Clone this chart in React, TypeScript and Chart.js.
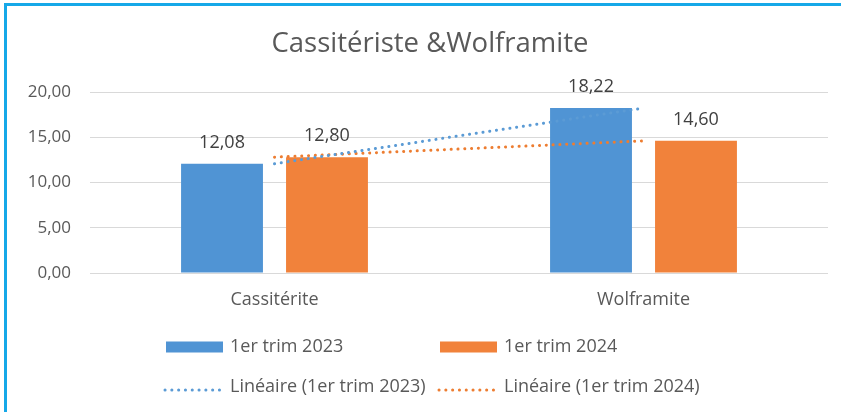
import React, { useEffect, useRef } from "react";
import { Chart, registerables } from "chart.js";

Chart.register(...registerables);

const categories = ["Cassitérite", "Wolframite"];
const seriesNames = ["1er trim 2023", "1er trim 2024"];
const series2023 = [12.08, 18.22];
const series2024 = [12.8, 14.6];
const yMin = 0;
const yMax = 20;
const yStep = 5;
const titleText = "Cassitériste &Wolframite";
const trendPrefix = "Linéaire";

const BLUE = "#5094D4";
const ORANGE = "#F1823B";
const FONT = "'Open Sans'";

function linearFit(values: number[]): number[] {
  const n = values.length;
  const xs = values.map((_, i) => i + 1);
  const mx = xs.reduce((a, b) => a + b, 0) / n;
  const my = values.reduce((a, b) => a + b, 0) / n;
  let num = 0;
  let den = 0;
  for (let i = 0; i < n; i++) {
    num += (xs[i] - mx) * (values[i] - my);
    den += (xs[i] - mx) * (xs[i] - mx);
  }
  const slope = den === 0 ? 0 : num / den;
  const icpt = my - slope * mx;
  return xs.map((x) => icpt + slope * x);
}

const fmt = (v: number) => v.toFixed(2).replace(".", ",");

const titlePlugin = {
  id: "customTitle",
  afterDraw(chart: any) {
    const ctx = chart.ctx;
    ctx.save();
    ctx.font = `27.5px ${FONT}`;
    ctx.fillStyle = "#595959";
    ctx.textAlign = "center";
    ctx.textBaseline = "middle";
    ctx.fillText(titleText, 430, 44);
    ctx.restore();
  },
};

const dataLabelPlugin = {
  id: "dataLabels",
  afterDatasetsDraw(chart: any) {
    const ctx = chart.ctx;
    ctx.save();
    ctx.font = `18px ${FONT}`;
    ctx.fillStyle = "#404040";
    ctx.textAlign = "center";
    ctx.textBaseline = "middle";
    chart.data.datasets.forEach((ds: any, di: number) => {
      if (ds.type !== "bar") return;
      const meta = chart.getDatasetMeta(di);
      meta.data.forEach((el: any, i: number) => {
        ctx.fillText(fmt(ds.data[i]), el.x, el.y - 21);
      });
    });
    ctx.restore();
  },
};

const legendPlugin = {
  id: "customLegend",
  afterDraw(chart: any) {
    const ctx = chart.ctx;
    const ds = chart.data.datasets;
    const cols = [166, 440];
    const rows = [347, 387];
    ctx.save();
    ctx.font = `18px ${FONT}`;
    ctx.textBaseline = "middle";
    ctx.textAlign = "left";
    ds.forEach((d: any, i: number) => {
      const isBar = d.type === "bar";
      const col = cols[i % 2];
      const row = rows[isBar ? 0 : 1];
      if (isBar) {
        ctx.fillStyle = d.backgroundColor;
        ctx.fillRect(col, row - 5.5, 57, 11);
      } else {
        ctx.strokeStyle = d.borderColor;
        ctx.lineWidth = 3;
        ctx.lineCap = "round";
        ctx.setLineDash([0.1, 6.7]);
        ctx.beginPath();
        ctx.moveTo(col - 1, row + 3);
        ctx.lineTo(col + 56, row + 3);
        ctx.stroke();
        ctx.setLineDash([]);
      }
      ctx.fillStyle = "#595959";
      ctx.fillText(d.label, col + 64, row);
    });
    ctx.restore();
  },
};

export default function App() {
  const ref = useRef<HTMLCanvasElement | null>(null);
  useEffect(() => {
    if (!ref.current) return;
    const chart = new Chart(ref.current, {
      type: "bar",
      data: {
        labels: categories,
        datasets: [
          {
            type: "bar",
            label: seriesNames[0],
            data: series2023,
            backgroundColor: BLUE,
            categoryPercentage: 0.569,
            barPercentage: 0.78,
            order: 1,
          },
          {
            type: "bar",
            label: seriesNames[1],
            data: series2024,
            backgroundColor: ORANGE,
            categoryPercentage: 0.569,
            barPercentage: 0.78,
            order: 1,
          },
          {
            type: "line",
            label: `${trendPrefix} (${seriesNames[0]})`,
            data: linearFit(series2023),
            borderColor: "#5B9BD5",
            borderWidth: 3,
            borderCapStyle: "round",
            borderDash: [0.1, 6.7],
            pointRadius: 0,
            fill: false,
            order: 0,
          },
          {
            type: "line",
            label: `${trendPrefix} (${seriesNames[1]})`,
            data: linearFit(series2024),
            borderColor: "#ED7D31",
            borderWidth: 3,
            borderCapStyle: "round",
            borderDash: [0.1, 6.7],
            pointRadius: 0,
            fill: false,
            order: 0,
          },
        ] as any,
      },
      options: {
        animation: false,
        responsive: false,
        maintainAspectRatio: false,
        layout: { padding: { left: 0, right: 13, top: 92, bottom: 99 } },
        plugins: {
          legend: { display: false },
          title: { display: false },
          tooltip: { enabled: false },
        },
        scales: {
          x: {
            grid: { display: false, drawTicks: false },
            border: { display: false },
            ticks: {
              color: "#595959",
              font: { family: FONT, size: 18 },
              padding: 16,
            },
            afterFit(scale: any) {
              scale.height = 40;
            },
          },
          y: {
            min: yMin,
            max: yMax,
            grid: { color: "#D9D9D9", lineWidth: 1, drawTicks: false },
            border: { display: false },
            ticks: {
              stepSize: yStep,
              color: "#595959",
              font: { family: FONT, size: 17 },
              padding: 19,
              callback: (v: any) => fmt(Number(v)),
            },
            afterFit(scale: any) {
              scale.width = 90;
            },
          },
        },
      },
      plugins: [titlePlugin, dataLabelPlugin, legendPlugin],
    });
    return () => chart.destroy();
  }, []);

  return (
    <div
      style={{
        position: "absolute",
        left: 0,
        top: 0,
        width: 841,
        height: 412,
        background: "#fff",
        overflow: "hidden",
      }}
    >
      <div
        style={{
          position: "absolute",
          left: 4,
          top: 3,
          right: 0,
          bottom: 0,
          borderTop: "3px solid #16A8E8",
          borderLeft: "3px solid #16A8E8",
        }}
      />
      <canvas
        ref={ref}
        width={841}
        height={412}
        style={{ position: "absolute", left: 0, top: 0, width: 841, height: 412 }}
      />
    </div>
  );
}
